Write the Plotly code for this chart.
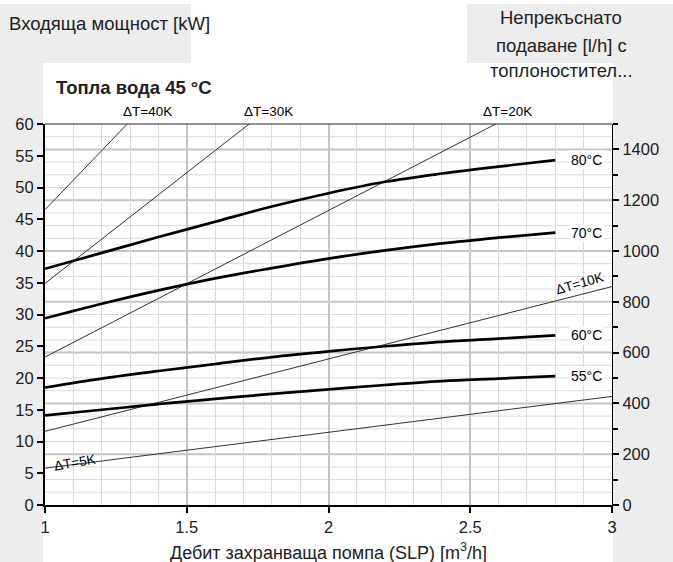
import plotly.graph_objects as go

# ---------------- data ----------------
flow = [1.0, 1.2, 1.4, 1.6, 1.8, 2.0, 2.2, 2.4, 2.6, 2.8]
p80 = [37.2, 39.7, 42.2, 44.6, 47.0, 49.1, 50.9, 52.2, 53.3, 54.3]
p70 = [29.4, 31.7, 33.8, 35.7, 37.3, 38.8, 40.1, 41.2, 42.1, 42.9]
p60 = [18.5, 19.9, 21.1, 22.2, 23.3, 24.2, 25.0, 25.7, 26.2, 26.7]
p55 = [14.1, 15.0, 15.9, 16.7, 17.5, 18.2, 18.9, 19.5, 19.9, 20.3]
curve_names = ["80°C", "70°C", "60°C", "55°C"]
curves = [p80, p70, p60, p55]

# ΔT lines (straight), two read points each
dt_names = ["ΔT=40K", "ΔT=30K", "ΔT=20K", "ΔT=10K", "ΔT=5K"]
dt_x = [[1.0, 1.29], [1.0, 1.72], [1.0, 2.59], [1.0, 3.0], [1.0, 3.0]]
dt_y = [[46.5, 60.0], [34.9, 60.0], [23.3, 60.0], [11.6, 34.4], [5.8, 17.1]]

x_ticks = [1, 1.5, 2, 2.5, 3]
x_ticklabels = ["1", "1.5", "2", "2.5", "3"]
y_left_ticks = [0, 5, 10, 15, 20, 25, 30, 35, 40, 45, 50, 55, 60]
y_right_ticks = [0, 200, 400, 600, 800, 1000, 1200, 1400]
y_right_minor_step = 50
y_right_max = 1500

# ---------------- layout geometry ----------------
W, H = 673, 562
L, R, T, B = 45, 612, 124, 505
FONT = "Liberation Sans"
GREY = "#ededed"
TXT = "#222222"
GRID_MAJOR = "#c4c4c4"
GRID_MINOR = "#dadada"


def px(xp):
    return (xp - L) / (R - L)


def py(yp):
    return (B - yp) / (B - T)


fig = go.Figure()

# invisible trace on the right (primary) axis
fig.add_trace(go.Scatter(x=[1], y=[0], yaxis="y", mode="markers",
                         marker=dict(opacity=0), hoverinfo="skip", showlegend=False))

for xs, ys in zip(dt_x, dt_y):
    fig.add_trace(go.Scatter(x=xs, y=ys, yaxis="y2", mode="lines",
                             line=dict(color="#333333", width=1),
                             hoverinfo="skip", showlegend=False))

for name, ys in zip(curve_names, curves):
    fig.add_trace(go.Scatter(x=flow, y=ys, yaxis="y2", mode="lines", name=name,
                             line=dict(color="black", width=2.7, shape="spline"),
                             showlegend=False))

shapes = []
for (x0, y0, x1, y1) in [(0, 4, 191, 63), (467, 4, W, 63), (0, 63, 43, H), (613, 63, W, H)]:
    shapes.append(dict(type="rect", xref="paper", yref="paper",
                       x0=px(x0), x1=px(x1), y0=py(y1), y1=py(y0),
                       fillcolor=GREY, line=dict(width=0), layer="below"))
# horizontal grid of the right axis (every 50 l/h, heavier every 200 l/h)
for v in range(y_right_minor_step, y_right_max, y_right_minor_step):
    major = v in y_right_ticks
    shapes.append(dict(type="line", xref="paper", yref="y", x0=0, x1=1, y0=v, y1=v,
                       line=dict(color=GRID_MAJOR if major else GRID_MINOR,
                                 width=2 if major else 1),
                       layer="below"))
shapes.append(dict(type="line", xref="paper", yref="paper", x0=0, x1=1, y0=1, y1=1,
                   line=dict(color="#222222", width=1)))

annotations = []
# curve labels
for name, ys in zip(curve_names, curves):
    annotations.append(dict(x=2.91, y=ys[-1], xref="x", yref="y2", text=name,
                            showarrow=False, bgcolor="white",
                            font=dict(size=14, color="black", family=FONT)))
# ΔT labels at top
for name, xv in zip(dt_names[:3], [1.36, 1.79, 2.63]):
    annotations.append(dict(x=xv, y=py(121), xref="x", yref="paper", text=name,
                            showarrow=False, yanchor="bottom",
                            font=dict(size=13.5, color="black", family=FONT)))
annotations.append(dict(x=2.885, y=34.9, xref="x", yref="y2", text=dt_names[3],
                        showarrow=False, textangle=-16,
                        font=dict(size=13.5, color="black", family=FONT)))
annotations.append(dict(x=1.107, y=6.7, xref="x", yref="y2", text=dt_names[4],
                        showarrow=False, textangle=-10,
                        font=dict(size=13.5, color="black", family=FONT)))
# titles
annotations.append(dict(x=px(7), y=py(24), xref="paper", yref="paper",
                        text="Входяща мощност [kW]", showarrow=False,
                        xanchor="left", yanchor="middle",
                        font=dict(size=18.5, color=TXT, family=FONT)))
annotations.append(dict(x=px(54), y=py(88), xref="paper", yref="paper",
                        text="<b>Топла вода 45 °C</b>", showarrow=False,
                        xanchor="left", yanchor="middle",
                        font=dict(size=18.5, color=TXT, family=FONT)))
for txt, yy in [("Непрекъснато", 18), ("подаване [l/h] с", 45), ("топлоностител...", 70)]:
    annotations.append(dict(x=px(561), y=py(yy), xref="paper", yref="paper",
                            text=txt, showarrow=False, xanchor="center", yanchor="middle",
                            font=dict(size=18.5, color=TXT, family=FONT)))
annotations.append(dict(x=px(328), y=py(551), xref="paper", yref="paper",
                        text="Дебит захранваща помпа (SLP) [m<sup>3</sup>/h]", showarrow=False,
                        xanchor="center", yanchor="middle",
                        font=dict(size=18, color=TXT, family=FONT)))

fig.update_layout(
    width=W, height=H,
    margin=dict(l=L, r=W - R, t=T, b=H - B, pad=0),
    paper_bgcolor="white", plot_bgcolor="white",
    font=dict(family=FONT, size=16, color=TXT),
    shapes=shapes, annotations=annotations,
    xaxis=dict(range=[1, 3], tickvals=x_ticks, ticktext=x_ticklabels,
               showgrid=True, gridcolor=GRID_MAJOR, gridwidth=2,
               minor=dict(dtick=0.1, showgrid=True, gridcolor=GRID_MINOR, gridwidth=1),
               showline=True, linecolor="black", linewidth=2,
               ticks="outside", ticklen=6, tickcolor="black", tickwidth=1.5,
               zeroline=False, fixedrange=True, tickfont=dict(size=16.5)),
    yaxis=dict(range=[0, y_right_max], tickvals=y_right_ticks, side="right",
               showgrid=False,
               minor=dict(dtick=100, ticks="outside", ticklen=5, tickcolor="black",
                          tickwidth=1.5, showgrid=False),
               showline=True, linecolor="black", linewidth=1.2,
               ticks="outside", ticklen=6, tickcolor="black", tickwidth=1.5,
               zeroline=False, tickfont=dict(size=16.5)),
    yaxis2=dict(range=[0, 60], tickvals=y_left_ticks, overlaying="y", side="left",
                showgrid=False,
                showline=True, linecolor="black", linewidth=2,
                ticks="outside", ticklen=6, tickcolor="black", tickwidth=1.5,
                zeroline=False, tickfont=dict(size=16.5)),
)

fig.write_html("out.html")
